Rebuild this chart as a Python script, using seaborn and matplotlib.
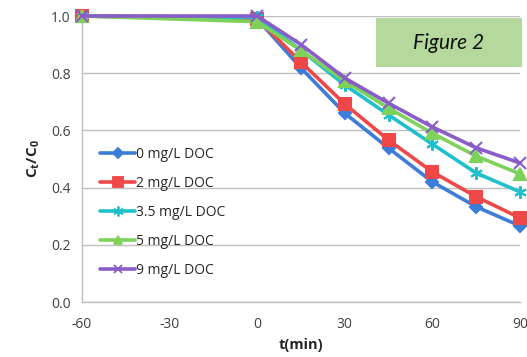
import numpy as np
import pandas as pd
import matplotlib
matplotlib.use("Agg")
import matplotlib.pyplot as plt
import seaborn as sns
from matplotlib.lines import Line2D
from matplotlib.patches import Rectangle

# ---- data ----
times = [-60, 0, 15, 30, 45, 60, 75, 90]
series_names = ["0 mg/L DOC", "2 mg/L DOC", "3.5 mg/L DOC", "5 mg/L DOC", "9 mg/L DOC"]
doc0 = [1.0, 0.99, 0.818, 0.66, 0.538, 0.42, 0.333, 0.266]
doc2 = [1.0, 0.99, 0.839, 0.692, 0.566, 0.455, 0.368, 0.294]
doc35 = [1.0, 0.995, 0.88, 0.759, 0.654, 0.552, 0.451, 0.385]
doc5 = [1.0, 0.98, 0.88, 0.773, 0.678, 0.59, 0.51, 0.448]
doc9 = [1.0, 1.0, 0.9, 0.783, 0.695, 0.612, 0.539, 0.486]
x_ticks = [-60, -30, 0, 30, 60, 90]
y_ticks = [0.0, 0.2, 0.4, 0.6, 0.8, 1.0]

colors = ["#3b7dd8", "#f04848", "#1fbfcc", "#7dd35a", "#8a5cc8"]
markers = ["D", "s", (6, 2, 0), "^", "x"]
msizes = [6, 9, 9, 8, 8]

rows = []
for name, vals in zip(series_names, [doc0, doc2, doc35, doc5, doc9]):
    for t, v in zip(times, vals):
        rows.append({"t": t, "c": v, "series": name})
df = pd.DataFrame(rows)

sns.set_theme(style="white")
plt.rcParams["font.family"] = ["Open Sans", "DejaVu Sans"]

fig = plt.figure(figsize=(5.27, 3.57), dpi=100)
ax = fig.add_axes([82 / 527, 1 - 302 / 357, (520 - 82) / 527, (302 - 16) / 357])

for name, col, mk, ms in zip(series_names, colors, markers, msizes):
    sub = df[df["series"] == name]
    sns.lineplot(data=sub, x="t", y="c", ax=ax, color=col, linewidth=2.6,
                 marker=mk, markersize=ms, markeredgecolor=col,
                 markeredgewidth=1.5, label=name, legend=False,
                 sort=False, clip_on=False, zorder=3)

ax.set_xlim(-60, 90)
ax.set_ylim(0, 1.0)
ax.set_xticks(x_ticks)
ax.set_xticklabels([str(v) for v in x_ticks])
ax.set_yticks(y_ticks)
ax.set_yticklabels([f"{v:.1f}" for v in y_ticks])
ax.yaxis.grid(True, color="#c0c0c0", linewidth=1.0)
ax.xaxis.grid(False)
for s in ["top", "right"]:
    ax.spines[s].set_visible(False)
for s in ["left", "bottom"]:
    ax.spines[s].set_color("#bfbfbf")
    ax.spines[s].set_linewidth(1.0)
ax.tick_params(axis="both", labelsize=10, colors="#404040", length=4,
               color="#bfbfbf", direction="out", pad=4)
ax.tick_params(axis="x", length=0, pad=11)
ax.set_xlabel("t(min)", fontsize=10.5, fontweight="bold", color="#262626", labelpad=4)
ax.set_ylabel(r"C$_\mathregular{t}$/C$_\mathregular{0}$", fontsize=11,
              fontweight="bold", color="#262626", labelpad=7)

handles = [Line2D([0], [0], color=c, linewidth=2.6, marker=m, markersize=ms * 0.8,
                  markeredgecolor=c, markeredgewidth=1.3)
           for c, m, ms in zip(colors, markers, msizes)]
leg = ax.legend(handles, series_names, loc="upper left",
                bbox_to_anchor=(0.02, 0.575), frameon=False, fontsize=10,
                handlelength=2.5, handletextpad=0.05, labelspacing=1.0,
                borderpad=0.2)
for t in leg.get_texts():
    t.set_color("#262626")

fig.patches.append(Rectangle((376 / 527, 1 - 67 / 357), 146 / 527, 49 / 357,
                             transform=fig.transFigure, facecolor="#b5d99c",
                             edgecolor="none", zorder=5))
fig.text(449 / 527, 1 - 43 / 357, "Figure 2", ha="center", va="center",
         fontsize=15, style="italic", family=["Lato", "DejaVu Sans"], color="#111111",
         zorder=6)

fig.savefig("out.png", dpi=100)
